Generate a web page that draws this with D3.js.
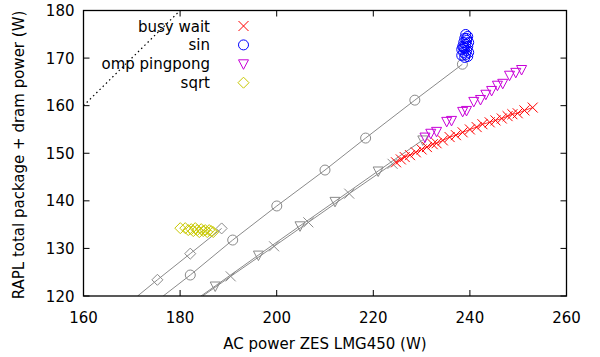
<!DOCTYPE html>
<html>
<head>
<meta charset="utf-8">
<script src="https://cdn.jsdelivr.net/npm/d3@7"></script>
<style>
  html, body { margin: 0; padding: 0; background: #fff; }
  svg { display: block; font-family: "DejaVu Sans", sans-serif; }
</style>
</head>
<body>
<svg id="chart" width="600" height="357"></svg>
<script>
// ---------- data ----------
const xTicks = [160, 180, 200, 220, 240, 260];
const yTicks = [120, 130, 140, 150, 160, 170, 180];
const xLabel = "AC power ZES LMG450 (W)";
const yLabel = "RAPL total package + dram power (W)";
const seriesNames = ["busy wait", "sin", "omp pingpong", "sqrt"];

// identity reference line (dotted)
const identityX = [160, 180];
const identityY = [160, 180];

// busy wait (red crosses)
const busyX = [224.7, 225.7, 226.5, 227.6, 228.8, 230.0, 231.1, 232.3, 233.1, 234.4, 235.8, 237.1, 238.5, 240.0, 241.4, 242.6, 244.1, 245.3, 246.6, 247.8, 248.8, 249.9, 251.3, 253.0];
const busyY = [148.1, 148.7, 149.2, 149.6, 150.2, 150.8, 151.3, 151.9, 152.1, 152.7, 153.4, 153.8, 154.4, 155.0, 155.5, 156.1, 156.5, 156.9, 157.3, 157.8, 158.2, 158.4, 159.0, 159.6];

// sin (blue circles)
const sinX = [239.13, 239.55, 238.93, 239.34, 238.72, 239.75, 239.13, 238.51, 239.55, 238.93, 238.31, 239.34, 238.72, 239.75, 239.13, 238.31, 239.55, 238.93, 239.34, 238.72];
const sinY = [174.96, 174.54, 174.12, 173.70, 173.28, 173.28, 172.86, 172.44, 172.44, 172.02, 171.81, 171.61, 171.19, 171.19, 170.77, 170.56, 170.35, 170.14, 174.12, 172.23];

// omp pingpong (magenta down triangles)
const ompX = [230.7, 231.9, 233.1, 235.2, 236.2, 238.5, 239.3, 240.8, 242.2, 243.3, 244.5, 245.7, 246.8, 248.2, 249.5, 250.7];
const ompY = [153.4, 154.2, 154.6, 156.7, 156.9, 158.8, 159.0, 160.9, 161.3, 162.4, 163.2, 164.3, 164.7, 166.4, 167.0, 167.6];

// sqrt (yellow diamonds)
const sqrtX = [180.04, 181.07, 181.69, 182.31, 182.73, 183.14, 183.55, 183.97, 184.38, 184.79, 185.21, 185.62, 186.03, 186.45, 186.86];
const sqrtY = [134.26, 134.26, 133.85, 134.05, 133.64, 134.26, 133.85, 133.43, 134.05, 133.64, 133.85, 133.43, 133.85, 133.64, 133.43];

// grey sweep lines (first point is where the line leaves the bottom of the frame)
const sqrtLineX = [171.2, 175.3, 182.1, 188.6];
const sqrtLineY = [120.0, 123.4, 128.9, 134.2];
const sinLineX = [176.5, 182.11, 190.89, 200.02, 210.0, 218.41, 228.6, 238.45];
const sinLineY = [120.0, 124.41, 131.76, 138.92, 146.47, 153.19, 161.16, 168.71];
const ompLineX = [184.34, 187.27, 196.22, 204.83, 212.07, 221.01, 230.25];
const ompLineY = [120.0, 122.10, 128.60, 134.75, 139.89, 146.27, 152.80];
const busyLineX = [184.67, 190.48, 199.46, 206.55, 215.02, 223.99];
const busyLineY = [120.0, 124.13, 130.44, 135.48, 141.51, 147.78];

// ---------- layout ----------
const W = 600, H = 357;
const m = { left: 83.5, right: 566.5, top: 10.5, bottom: 296 };
const FONT = 15;
const colors = { busy: "#ff0000", sin: "#0000ff", omp: "#c800d8", sqrt: "#c8c800", grey: "#8a8a8a" };

const svg = d3.select("#chart");
const x = d3.scaleLinear().domain([160, 260]).range([m.left, m.right]);
const y = d3.scaleLinear().domain([120, 180]).range([m.bottom, m.top]);

svg.append("defs").append("clipPath").attr("id", "clip")
  .append("rect").attr("x", m.left).attr("y", m.top)
  .attr("width", m.right - m.left).attr("height", m.bottom - m.top);

const zip = (xs, ys) => xs.map((v, i) => [v, ys[i]]);
const line = d3.line().x(d => x(d[0])).y(d => y(d[1]));

// marker shapes
const S = 5;
const shapes = {
  cross: `M${-S},${-S}L${S},${S}M${-S},${S}L${S},${-S}`,
  circle: `M${S},0A${S},${S} 0 1,1 ${-S},0A${S},${S} 0 1,1 ${S},0Z`,
  tri: `M${-S},-4L${S},-4L0,5.5Z`,
  diamond: `M0,${-S - 0.5}L${S + 0.5},0L0,${S + 0.5}L${-S - 0.5},0Z`
};

const plot = svg.append("g").attr("clip-path", "url(#clip)");

// identity dotted line
plot.append("path").datum(zip(identityX, identityY))
  .attr("d", line).attr("fill", "none").attr("stroke", "#000")
  .attr("stroke-width", 1.2).attr("stroke-dasharray", "1.5,3");

// grey sweep lines with markers
function greyLine(xs, ys, shape) {
  const pts = zip(xs, ys);
  plot.append("path").datum(pts).attr("d", line)
    .attr("fill", "none").attr("stroke", colors.grey).attr("stroke-width", 1);
  plot.selectAll(null).data(pts.slice(1)).enter().append("path")
    .attr("transform", d => `translate(${x(d[0])},${y(d[1])})`)
    .attr("d", shapes[shape]).attr("fill", "none")
    .attr("stroke", colors.grey).attr("stroke-width", 1);
}
greyLine(sqrtLineX, sqrtLineY, "diamond");
greyLine(sinLineX, sinLineY, "circle");
greyLine(busyLineX, busyLineY, "cross");
greyLine(ompLineX, ompLineY, "tri");

// data series
function points(xs, ys, shape, color) {
  plot.selectAll(null).data(zip(xs, ys)).enter().append("path")
    .attr("transform", d => `translate(${x(d[0])},${y(d[1])})`)
    .attr("d", shapes[shape]).attr("fill", "none")
    .attr("stroke", color).attr("stroke-width", 1);
}
// thin connecting line for busy wait
plot.append("path").datum(zip(busyX, busyY)).attr("d", line)
  .attr("fill", "none").attr("stroke", colors.busy).attr("stroke-width", 0.8);
points(busyX, busyY, "cross", colors.busy);
points(sinX, sinY, "circle", colors.sin);
points(ompX, ompY, "tri", colors.omp);
points(sqrtX, sqrtY, "diamond", colors.sqrt);

// ---------- frame & ticks ----------
const TL = 6;
const frame = svg.append("g").attr("stroke", "#000").attr("stroke-width", 1);
xTicks.forEach(t => {
  frame.append("line").attr("x1", x(t)).attr("x2", x(t)).attr("y1", m.bottom).attr("y2", m.bottom - TL);
  frame.append("line").attr("x1", x(t)).attr("x2", x(t)).attr("y1", m.top).attr("y2", m.top + TL);
});
yTicks.forEach(t => {
  frame.append("line").attr("x1", m.left).attr("x2", m.left + TL).attr("y1", y(t)).attr("y2", y(t));
  frame.append("line").attr("x1", m.right).attr("x2", m.right - TL).attr("y1", y(t)).attr("y2", y(t));
});
svg.append("rect").attr("x", m.left).attr("y", m.top)
  .attr("width", m.right - m.left).attr("height", m.bottom - m.top)
  .attr("fill", "none").attr("stroke", "#000").attr("stroke-width", 1.3);

// tick labels
svg.append("g").selectAll("text").data(xTicks).enter().append("text")
  .attr("x", d => x(d)).attr("y", m.bottom + 27)
  .attr("text-anchor", "middle").attr("font-size", FONT).attr("fill", "#000")
  .text(d => d);
svg.append("g").selectAll("text").data(yTicks).enter().append("text")
  .attr("x", m.left - 9).attr("y", d => y(d) + 5.5)
  .attr("text-anchor", "end").attr("font-size", FONT).attr("fill", "#000")
  .text(d => d);

// axis titles
svg.append("text").attr("x", (m.left + m.right) / 2).attr("y", 348.5)
  .attr("text-anchor", "middle").attr("font-size", FONT).text(xLabel);
svg.append("text").attr("transform", `translate(23.5,155) rotate(-90)`)
  .attr("text-anchor", "middle").attr("font-size", FONT).text(yLabel);

// ---------- legend ----------
const legendShapes = ["cross", "circle", "tri", "diamond"];
const legendColors = [colors.busy, colors.sin, colors.omp, colors.sqrt];
const lg = svg.append("g");
seriesNames.forEach((name, i) => {
  const cy = 26 + i * 18.9;
  lg.append("text").attr("x", 210).attr("y", cy + 5.5)
    .attr("text-anchor", "end").attr("font-size", FONT).text(name);
  lg.append("path").attr("transform", `translate(243.5,${cy})`)
    .attr("d", shapes[legendShapes[i]]).attr("fill", "none")
    .attr("stroke", legendColors[i]).attr("stroke-width", 1);
});
</script>
</body>
</html>
